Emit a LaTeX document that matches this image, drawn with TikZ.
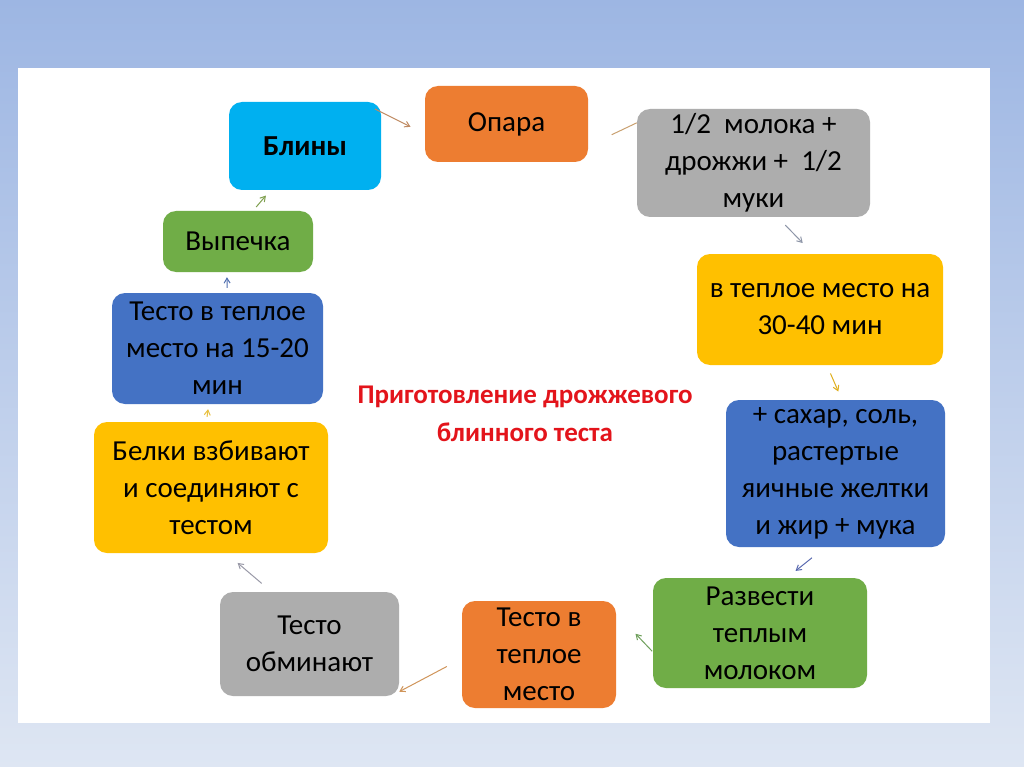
\documentclass[tikz,border=0pt]{standalone}
\usepackage{fontspec}
\setmainfont{Carlito}
\usetikzlibrary{arrows.meta}
\definecolor{bgtop}{HTML}{9DB6E3}
\definecolor{bgbot}{HTML}{DEE6F3}
\definecolor{cCyan}{HTML}{00B0F0}
\definecolor{cOrange}{HTML}{ED7D31}
\definecolor{cGray}{HTML}{ADADAD}
\definecolor{cYellow}{HTML}{FFC000}
\definecolor{cBlue}{HTML}{4472C4}
\definecolor{cGreen}{HTML}{70AD47}
\definecolor{cTitle}{HTML}{E3141B}
\definecolor{aBrown}{HTML}{C08A62}
\definecolor{aTan}{HTML}{C9A070}
\definecolor{aGray}{HTML}{8E96A8}
\definecolor{aGold}{HTML}{E0B020}
\definecolor{aBlue}{HTML}{5A6AB0}
\definecolor{aGreen}{HTML}{6FA05C}
\definecolor{aOrange}{HTML}{D0955A}
\definecolor{aGray2}{HTML}{9A9AA8}
\definecolor{aYellow}{HTML}{E8C040}
\definecolor{aBlue2}{HTML}{5070B0}
\definecolor{aGreen2}{HTML}{80A050}
\begin{document}
\begin{tikzpicture}[x=1pt,y=-1pt,
  box/.style={rectangle, rounded corners=13pt, align=center, inner sep=2pt,
    font=\fontsize{29}{37}\selectfont, text=black},
  conn/.style={line width=1pt, -{Straight Barb[length=5pt,width=6pt]}},
  title/.style={align=center, text=cTitle, font=\fontsize{27}{38}\selectfont\bfseries}
]
\useasboundingbox (0,0) rectangle (1024,767);
\shade[top color=bgtop, bottom color=bgbot] (0,0) rectangle (1024,767);
\fill[white] (18,68) rectangle (990,723);

\node[box, fill=cCyan, minimum width=152pt, minimum height=88pt, font=\fontsize{29}{37}\selectfont\bfseries] (blin) at (305,146) {Блины};
\node[box, fill=cOrange, minimum width=163pt, minimum height=76pt] (opara) at (506.5,124) {Опара};
\node[box, fill=cGray, minimum width=233pt, minimum height=108pt] (half) at (753.5,163) {1/2~~молока +\\дрожжи +~~1/2\\муки};
\node[box, fill=cYellow, minimum width=246pt, minimum height=111pt] (warm1) at (820,309.5) {в теплое место на\\30-40 мин};
\node[box, fill=cBlue, minimum width=219pt, minimum height=147pt] (sugar) at (835.5,473.5) {+ сахар, соль,\\растертые\\яичные желтки\\и жир + мука};
\node[box, fill=cGreen, minimum width=214pt, minimum height=110pt] (dilute) at (760,633) {Развести\\теплым\\молоком};
\node[box, fill=cOrange, minimum width=154pt, minimum height=107pt] (warm2) at (539,654.5) {Тесто в\\теплое\\место};
\node[box, fill=cGray, minimum width=179pt, minimum height=104pt] (knead) at (309.5,644) {Тесто\\обминают};
\node[box, fill=cYellow, minimum width=234pt, minimum height=131pt] (whites) at (211,487.5) {Белки взбивают\\и соединяют с\\тестом};
\node[box, fill=cBlue, minimum width=211pt, minimum height=111pt] (warm3) at (217.5,348.5) {Тесто в теплое\\место на 15-20\\мин};
\node[box, fill=cGreen, minimum width=150pt, minimum height=61pt] (bake) at (238,241.5) {Выпечка};

\node[title] (ttl) at (525,414) {Приготовление дрожжевого\\блинного теста};

\draw[conn, aBrown, shorten <=-7pt, shorten >=16pt] (blin.24.6) -- (opara.187);
\draw[line width=1pt, aTan, shorten <=26pt] (opara.-15.4) -- (half.161);
\draw[conn, aGray, shorten <=11pt, shorten >=15pt] (half.-66) -- (warm1.97);
\draw[conn, aGold, shorten <=9pt, shorten >=9pt] (warm1.-83) -- (sugar.85);
\draw[conn, aBlue, shorten <=17pt, shorten >=11pt] (sugar.-98) -- (dilute.64);
\draw[conn, aGreen, shorten <=1pt, shorten >=28pt] (dilute.190) -- (warm2.28);
\draw[conn, aOrange, shorten <=17pt] (warm2.183.5) -- (knead.-28.5);
\draw[conn, aGray2, shorten <=13pt, shorten >=15pt] (knead.126) -- (whites.-77);
\draw[conn, aYellow, shorten <=5pt, shorten >=5pt] (whites.94) -- (warm3.-99);
\draw[conn, aBlue2, shorten <=5pt, shorten >=5pt] (warm3.80) -- (bake.-110);
\draw[conn, aGreen2, shorten <=5pt, shorten >=7pt] (bake.64) -- (blin.-128.5);
\end{tikzpicture}
\end{document}
